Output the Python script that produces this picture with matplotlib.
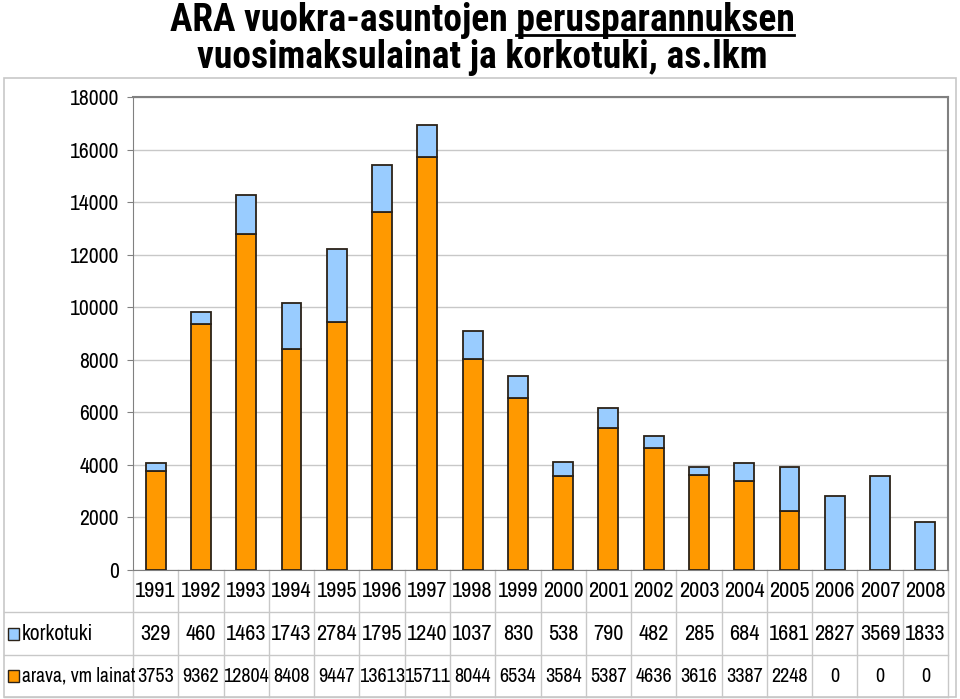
'''ARA vuokra-asuntojen perusparannuksen vuosimaksulainat ja korkotuki.'''

import matplotlib
matplotlib.use('Agg')
import matplotlib.pyplot as plt
from matplotlib.patches import Rectangle
from matplotlib.lines import Line2D
from matplotlib.transforms import blended_transform_factory

plt.rcParams['font.family'] = ['Archivo Narrow', 'Roboto Condensed', 'DejaVu Sans']
TITLE_FONT = ['Roboto Condensed', 'DejaVu Sans']

years = ['1991', '1992', '1993', '1994', '1995', '1996', '1997', '1998', '1999',
         '2000', '2001', '2002', '2003', '2004', '2005', '2006', '2007', '2008']
arava = [3753, 9362, 12804, 8408, 9447, 13613, 15711, 8044, 6534,
         3584, 5387, 4636, 3616, 3387, 2248, 0, 0, 0]
korkotuki = [329, 460, 1463, 1743, 2784, 1795, 1240, 1037, 830,
             538, 790, 482, 285, 684, 1681, 2827, 3569, 1833]
yticks = list(range(0, 18001, 2000))

ORANGE = '#FF9900'
BLUE = '#99CCFF'
EDGE = '#2b2218'
GRID = '#c8c8c8'

W, H = 960, 699
fig = plt.figure(figsize=(W / 100, H / 100), dpi=100)

def fx(px):
    return px / W

def fy(py):
    return 1 - py / H

# outer chart border
fig.add_artist(Rectangle((fx(4), fy(697)), fx(952), 619 / H, transform=fig.transFigure,
                         fill=False, ec=GRID, lw=1.2))

ax = fig.add_axes([fx(133), fy(570), fx(948) - fx(133), (570 - 97) / H])
x = list(range(len(years)))
ax.bar(x, arava, width=0.44, color=ORANGE, edgecolor=EDGE, lw=1.3, zorder=3)
ax.bar(x, korkotuki, width=0.44, bottom=arava, color=BLUE, edgecolor=EDGE, lw=1.3, zorder=3)

ax.set_xlim(-0.5, len(years) - 0.5)
ax.set_ylim(0, 18000)
ax.set_yticks(yticks)
ax.set_yticklabels([str(v) for v in yticks], fontsize=15.5)
ax.set_xticks([])
ax.tick_params(axis='y', length=4, color='#808080', pad=6)
ax.yaxis.grid(True, color=GRID, lw=1)
ax.set_axisbelow(True)
for side in ['top', 'right']:
    ax.spines[side].set_color('#808080')
    ax.spines[side].set_linewidth(1.5)
ax.spines['left'].set_color('#808080')
ax.spines['bottom'].set_color('#808080')

# data table below the axis
tr = blended_transform_factory(ax.transData, ax.transAxes)
ay = lambda py: (570 - py) / (570 - 97)
left_edge = -0.5 - (133 - 4) / ((948 - 133) / len(years))

for py in [612, 655, 697]:
    ax.add_line(Line2D([left_edge, len(years) - 0.5], [ay(py), ay(py)], transform=tr,
                       color=GRID, lw=1, clip_on=False))
for k in range(len(years) + 1):
    ax.add_line(Line2D([k - 0.5, k - 0.5], [ay(570), ay(697)], transform=tr,
                       color=GRID, lw=1, clip_on=False))

for i, yr in enumerate(years):
    ax.text(i, ay(591), yr, transform=tr, ha='center', va='center', fontsize=16, clip_on=False)
    ax.text(i, ay(634), str(korkotuki[i]), transform=tr, ha='center', va='center',
            fontsize=16, clip_on=False)
    ax.text(i, ay(676), str(arava[i]), transform=tr, ha='center', va='center',
            fontsize=14.5, clip_on=False)

# row labels with legend keys
for py, col, label, fs in [(634, BLUE, 'korkotuki', 15.5), (676, ORANGE, 'arava, vm lainat', 14)]:
    fig.add_artist(Rectangle((fx(8), fy(py + 6)), fx(11), 12 / H, transform=fig.transFigure,
                             fc=col, ec=EDGE, lw=1))
    fig.text(fx(22), fy(py), label, ha='left', va='center', fontsize=fs)

# title, first word group underlined
TS = 27
t1 = fig.text(fx(482), fy(31), 'ARA vuokra-asuntojen perusparannuksen', ha='center',
              va='baseline', fontsize=TS, fontweight='bold', family=TITLE_FONT)
fig.text(fx(482), fy(68), 'vuosimaksulainat ja korkotuki, as.lkm', ha='center',
         va='baseline', fontsize=TS, fontweight='bold', family=TITLE_FONT)
fig.canvas.draw()
r = fig.canvas.get_renderer()
full = t1.get_window_extent(r)
tmp = fig.text(0, 0, 'perusparannuksen', fontsize=TS, fontweight='bold', family=TITLE_FONT)
wword = tmp.get_window_extent(r).width
tmp.remove()
# window extents are in pixels, convert to figure fraction
fig.add_artist(Line2D([fx(full.x1 - wword), fx(full.x1)], [fy(35), fy(35)],
                      transform=fig.transFigure, color='black', lw=2))

fig.savefig('out.png', dpi=100)
